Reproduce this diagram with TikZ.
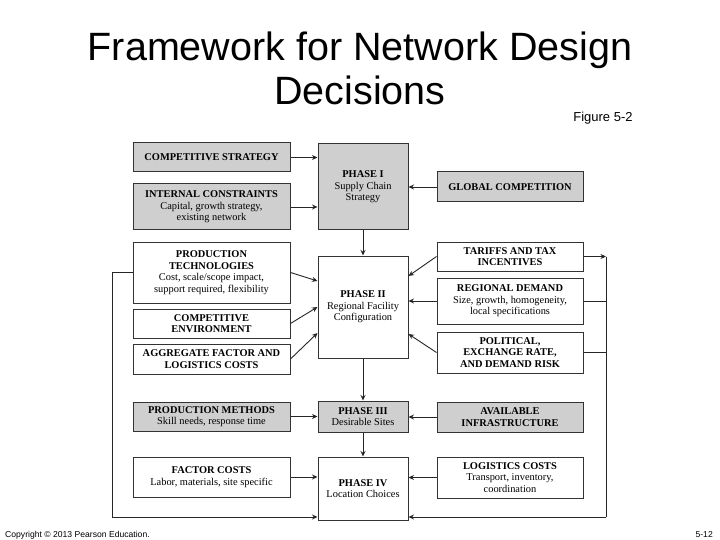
\documentclass[tikz,border=0pt]{standalone}
\usepackage{fontspec}
\setmainfont{Liberation Serif}
\newfontfamily\arialf{Liberation Sans}
\usetikzlibrary{arrows.meta,calc}
\tikzset{
  box/.style={draw=black!80, line width=1pt, align=center, inner sep=1pt,
    font=\fontsize{10.4}{11.5}\selectfont},
  gbox/.style={box, fill=black!19},
  arr/.style={draw=black!85, line width=0.9pt, -{Stealth[length=5.5pt,width=5pt]}},
  ln/.style={draw=black!85, line width=0.9pt},
  lbox/.style={minimum width=157pt},
  pbox/.style={minimum width=90pt},
  rbox/.style={minimum width=146pt}
}
\begin{document}
\begin{tikzpicture}[x=1pt,y=-1pt]
\path[use as bounding box, fill=white] (0,0) rectangle (720,540);

% Title
\node[font=\arialf\fontsize{39.5}{44}\selectfont, align=center, inner sep=0pt] (title) at (360,68) {Framework for Network Design\\Decisions};
\node[font=\arialf\fontsize{13}{15}\selectfont, inner sep=0pt] (fig) at (603,118) {Figure 5-2};
\node[font=\arialf\fontsize{8.6}{10}\selectfont, anchor=west, inner sep=0pt] (copy) at (5,535) {Copyright © 2013 Pearson Education.};
\node[font=\arialf\fontsize{8.6}{10}\selectfont, anchor=east, inner sep=0pt] (pg) at (713,535) {5-12};

% Left column
\node[gbox, lbox, minimum height=29pt] (cs) at (211.5,157.5) {\textbf{COMPETITIVE STRATEGY}};
\node[gbox, lbox, minimum height=46pt] (ic) at (211.5,207) {\textbf{INTERNAL CONSTRAINTS}\\Capital, growth strategy,\\existing network};
\node[box, lbox, minimum height=61pt] (pt) at (211.5,272.5) {\textbf{PRODUCTION}\\\textbf{TECHNOLOGIES}\\Cost, scale/scope impact,\\support required, flexibility};
\node[box, lbox, minimum height=29pt] (ce) at (211.5,323.5) {\textbf{COMPETITIVE}\\\textbf{ENVIRONMENT}};
\node[box, lbox, minimum height=30pt] (af) at (211.5,359) {\textbf{AGGREGATE FACTOR AND}\\\textbf{LOGISTICS COSTS}};
\node[gbox, lbox, minimum height=29pt] (pm) at (211.5,416.5) {\textbf{PRODUCTION METHODS}\\Skill needs, response time};
\node[box, lbox, minimum height=40pt] (fc) at (211.5,477) {\textbf{FACTOR COSTS}\\Labor, materials, site specific};

% Phase column
\node[gbox, pbox, minimum height=86pt] (p1) at (363,187) {\textbf{PHASE I}\\Supply Chain\\Strategy};
\node[box, pbox, minimum height=102pt] (p2) at (363,307) {\textbf{PHASE II}\\Regional Facility\\Configuration};
\node[gbox, pbox, minimum height=31pt] (p3) at (363,416.5) {\textbf{PHASE III}\\Desirable Sites};
\node[box, pbox, minimum height=63pt] (p4) at (363,488.5) {\textbf{PHASE IV}\\Location Choices};

% Right column
\node[gbox, rbox, minimum height=30pt] (gc) at (510,187) {\textbf{GLOBAL COMPETITION}};
\node[box, rbox, minimum height=29pt] (tt) at (510,256.5) {\textbf{TARIFFS AND TAX}\\\textbf{INCENTIVES}};
\node[box, rbox, minimum height=46pt] (rd) at (510,301) {\textbf{REGIONAL DEMAND}\\Size, growth, homogeneity,\\local specifications};
\node[box, rbox, minimum height=41pt] (pr) at (510,352.5) {\textbf{POLITICAL,}\\\textbf{EXCHANGE RATE,}\\\textbf{AND DEMAND RISK}};
\node[gbox, rbox, minimum height=30pt] (ai) at (510,417) {\textbf{AVAILABLE}\\\textbf{INFRASTRUCTURE}};
\node[box, rbox, minimum height=41pt] (lc) at (510,477.5) {\textbf{LOGISTICS COSTS}\\Transport, inventory,\\coordination};

% feedback line coordinates
\coordinate (lx) at (112,0);
\coordinate (rx) at (606,0);
\coordinate (by) at (0,517);

% Arrows into Phase I
\draw[arr] (cs.east) -- (cs.east -| p1.west);
\draw[arr] (ic.east) -- (ic.east -| p1.west);
\draw[arr] (gc.west) -- (gc.west -| p1.east);
\draw[arr] (p1.south) -- (p2.north);

% Arrows into Phase II
\draw[arr] (pt.east) -- ([yshift=26pt]p2.west);
\draw[arr] (ce.east) -- (p2.west);
\draw[arr] (af.east) -- ([yshift=-26pt]p2.west);
\draw[arr] (tt.west) -- ([yshift=31pt]p2.east);
\draw[arr] (rd.west) -- (rd.west -| p2.east);
\draw[arr] (pr.west) -- ([yshift=-27pt]p2.east);
\draw[arr] (p2.south) -- (p3.north);

% Phase III
\draw[arr] (pm.east) -- (pm.east -| p3.west);
\draw[arr] (ai.west) -- (ai.west -| p3.east);
\draw[arr] (p3.south) -- (p4.north);

% Phase IV
\draw[arr] (fc.east) -- (fc.east -| p4.west);
\draw[arr] (lc.west) -- (lc.west -| p4.east);

% Left feedback
\draw[ln] (pt.west) -- (pt.west -| lx) -- (lx |- by);
\draw[arr] (lx |- by) -- (by -| p4.west);

% Right feedback
\draw[arr] (tt.east) -- (tt.east -| rx);
\draw[ln] (tt.east -| rx) -- (rx |- by);
\draw[ln] (rd.east) -- (rd.east -| rx);
\draw[ln] (pr.east) -- (pr.east -| rx);
\draw[arr] (rx |- by) -- (by -| p4.east);
\end{tikzpicture}
\end{document}
